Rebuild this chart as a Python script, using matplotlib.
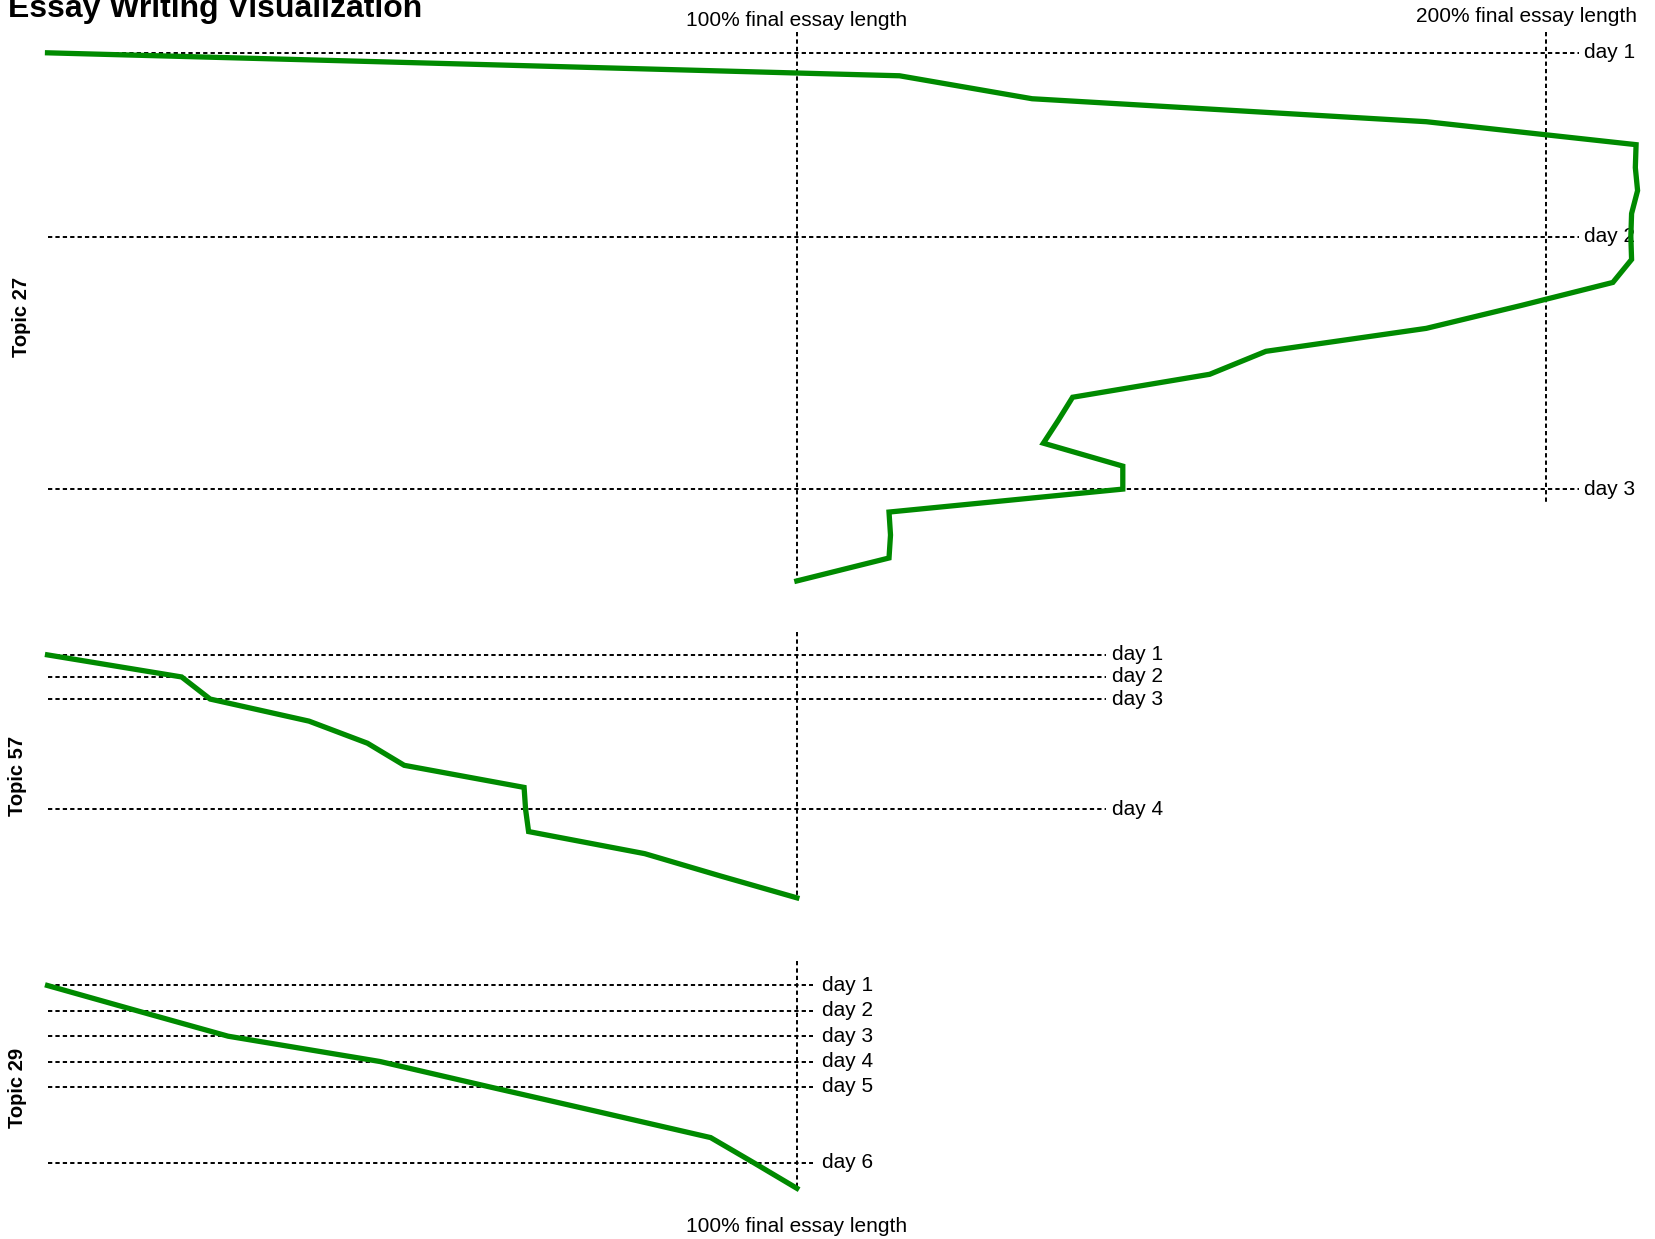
import matplotlib
matplotlib.use("Agg")
import matplotlib.pyplot as plt

plt.rcParams['font.family'] = ['Liberation Sans', 'DejaVu Sans']

# ---------------- data ----------------
title = "Essay Writing Visualization"
topics = ["Topic 27", "Topic 57", "Topic 29"]

# essay length (% of final essay length) at successive snapshots
topic27_pct = [0, 113.7, 131.4, 184.0, 212.0, 211.9, 212.2, 211.4, 211.3, 211.4,
               208.9, 196.7, 184.0, 162.6, 155.1, 136.8, 134.9, 132.9, 143.5,
               143.5, 112.3, 112.5, 112.3, 100.0]
topic57_pct = [0, 17.9, 21.7, 34.9, 42.7, 47.6, 63.6, 63.8, 64.2, 79.7, 89.7, 100.0]
topic29_pct = [0, 12.0, 24.1, 44.4, 59.0, 73.8, 88.5, 94.3, 100.0]

# snapshot index at which each day starts
topic27_days = [0, 8, 19]
topic57_days = [0, 1, 2, 7]
topic29_days = [0, 1, 2, 3, 4, 7]

day_labels27 = ["day 1", "day 2", "day 3"]
day_labels57 = ["day 1", "day 2", "day 3", "day 4"]
day_labels29 = ["day 1", "day 2", "day 3", "day 4", "day 5", "day 6"]

ref_label_100 = "100% final essay length"
ref_label_200 = "200% final essay length"

# ---------------- layout ----------------
W, H = 1568.0, 1173.0          # reference pixel frame
X0, PX_PER_PCT = 45.0, 7.095    # pixel of 0% and pixels per percent

fig = plt.figure(figsize=(16.56, 12.39), dpi=100)

GREEN = '#008a00'
DOT = (0, (2.2, 1.6))
FS = 15

panels = [
    dict(pct=topic27_pct, days=topic27_days, labels=day_labels27, y0=50, y1=550,
         vtop=[(100, -0.9, None), (200, -0.9, 19.55)], line_end=204.4, lab_x=205.1,
         topic=topics[0], tx=20, ty=300),
    dict(pct=topic57_pct, days=topic57_days, labels=day_labels57, y0=620, y1=850,
         vtop=[(100, -1.05, None)], line_end=141.2, lab_x=142.1,
         topic=topics[1], tx=17, ty=735),
    dict(pct=topic29_pct, days=topic29_days, labels=day_labels29, y0=933, y1=1125,
         vtop=[(100, -0.95, None)], line_end=102.2, lab_x=103.3,
         topic=topics[2], tx=17, ty=1030),
]

xmin = -X0 / PX_PER_PCT
xmax = (W - X0) / PX_PER_PCT

for p in panels:
    n = len(p['pct'])
    step = (p['y1'] - p['y0']) / (n - 1)
    top_px = p['y0'] - 1.2 * step
    bot_px = p['y1']
    ax = fig.add_axes([0, 1 - bot_px / H, 1, (bot_px - top_px) / H])
    ax.set_xlim(xmin, xmax)
    ax.set_ylim(n - 1, -1.2)
    ax.axis('off')
    idx = list(range(n))
    # day lines
    for d, lab in zip(p['days'], p['labels']):
        ax.plot([0, p['line_end']], [d, d], color='black', lw=1.4, ls=DOT,
                clip_on=False, zorder=1)
        ax.text(p['lab_x'], d, lab, fontsize=FS, va='center', ha='left',
                clip_on=False)
    # reference verticals
    for xv, ytop, ybot in p['vtop']:
        yb = (n - 1) if ybot is None else ybot
        ax.plot([xv, xv], [ytop, yb], color='black', lw=1.4, ls=DOT,
                clip_on=False, zorder=1)
    ax.plot(p['pct'], idx, color=GREEN, lw=3.8, solid_joinstyle='miter',
            clip_on=False, zorder=3)
    fig.text(p['tx'] / W, 1 - p['ty'] / H, p['topic'], rotation=90,
             fontsize=14.5, fontweight='bold', ha='center', va='center')

# reference labels
fig.text((X0 + 100 * PX_PER_PCT) / W, 1 - 19 / H, ref_label_100, fontsize=FS,
         ha='center', va='center')
fig.text(1550 / W, 1 - 15.5 / H, ref_label_200, fontsize=FS,
         ha='right', va='center')
fig.text((X0 + 100 * PX_PER_PCT) / W, 1 - 1161 / H, ref_label_100, fontsize=FS,
         ha='center', va='center')

fig.text(8 / W, 1 - 16 / H, title, fontsize=23, fontweight='bold',
         ha='left', va='baseline')

fig.savefig("out.png", dpi=100, facecolor='white')
